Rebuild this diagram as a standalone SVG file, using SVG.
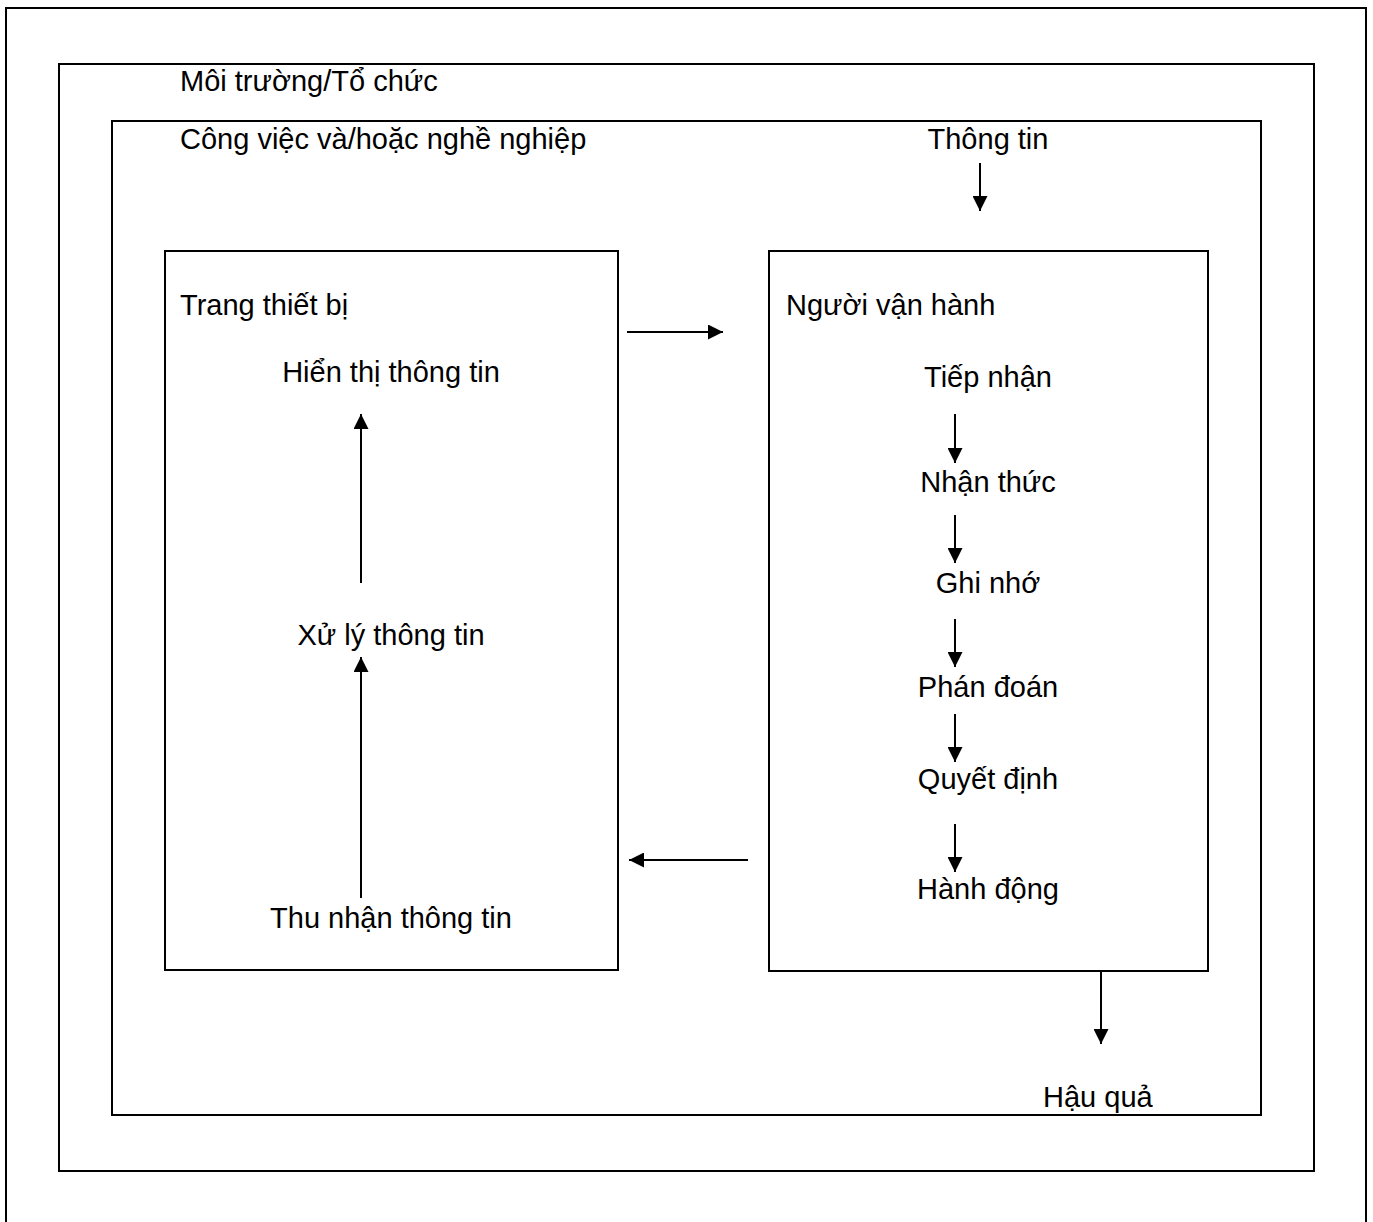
<svg xmlns="http://www.w3.org/2000/svg" width="1373" height="1222" viewBox="0 0 1373 1222">
<style>
.box{fill:none;stroke:#000;stroke-width:2}
.t{font-family:"Liberation Sans",Arial,sans-serif;font-size:29px;fill:#000}
.m{text-anchor:middle}
.c{stroke:#000;stroke-width:2;fill:none;marker-end:url(#ah)}
</style>
<defs>
<marker id="ah" markerUnits="userSpaceOnUse" markerWidth="15" markerHeight="15" refX="15" refY="7.5" orient="auto">
<path d="M0,0 L15,7.5 L0,15 Z" fill="#000"/>
</marker>
</defs>
<rect width="1373" height="1222" fill="#fff"/>
<path class="box" d="M6,1230 V8 H1366 V1230"/>
<g id="env">
<rect class="box" x="59" y="64" width="1255" height="1107"/>
<text class="t" x="180" y="91">Môi trường/Tổ chức</text>
</g>
<g id="job">
<rect class="box" x="112" y="121" width="1149" height="994"/>
<text class="t" x="180" y="149">Công việc và/hoặc nghề nghiệp</text>
</g>
<g id="info"><text class="t m" x="988" y="149">Thông tin</text></g>
<g id="equipment">
<rect class="box" x="165" y="251" width="453" height="719"/>
<text class="t" x="180" y="315">Trang thiết bị</text>
</g>
<g id="display"><text class="t m" x="391" y="382">Hiển thị thông tin</text></g>
<g id="processing"><text class="t m" x="391" y="645">Xử lý thông tin</text></g>
<g id="acquisition"><text class="t m" x="391" y="928">Thu nhận thông tin</text></g>
<g id="operator">
<rect class="box" x="769" y="251" width="439" height="720"/>
<text class="t" x="786" y="315">Người vận hành</text>
</g>
<g id="perceive"><text class="t m" x="988" y="387">Tiếp nhận</text></g>
<g id="cognize"><text class="t m" x="988" y="492">Nhận thức</text></g>
<g id="memory"><text class="t m" x="988" y="593">Ghi nhớ</text></g>
<g id="judge"><text class="t m" x="988" y="697">Phán đoán</text></g>
<g id="decide"><text class="t m" x="988" y="789">Quyết định</text></g>
<g id="act"><text class="t m" x="988" y="899">Hành động</text></g>
<g id="consequence"><text class="t" x="1043" y="1107">Hậu quả</text></g>
<g id="connectors">
<path class="c" d="M980,163 V211"/>
<path class="c" d="M627,332 H723"/>
<path class="c" d="M748,860 H629"/>
<path class="c" d="M1101,971 V1044"/>
<path class="c" d="M361,583 V414"/>
<path class="c" d="M361,898 V657"/>
<path class="c" d="M955,414 V463"/>
<path class="c" d="M955,515 V563"/>
<path class="c" d="M955,619 V667"/>
<path class="c" d="M955,714 V762"/>
<path class="c" d="M955,824 V872"/>
</g>
</svg>
